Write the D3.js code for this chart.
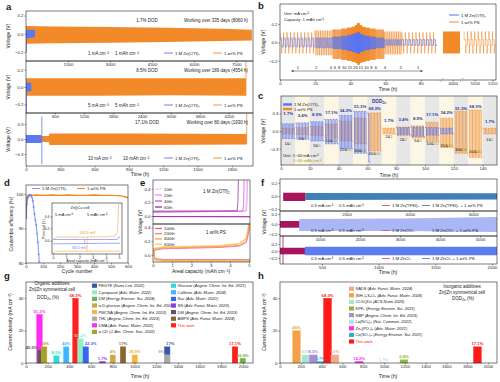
<!DOCTYPE html>
<html lang="en">
<head>
<meta charset="UTF-8" />
<title>Zn cycling figure</title>
<script src="https://cdn.jsdelivr.net/npm/d3@7"></script>
<style>
  body { margin: 0; background: #fff; }
  svg { font-family: 'Liberation Sans', Arial, sans-serif; }
</style>
</head>
<body>
<svg id="fig" width="500" height="382"></svg>
<script>
// ---------------- data: panel a (long-term cycling) ----------------
const aSpan = [8100, 4700, 1985];
const aVolt = [[-0.3, 0.25], [-0.3, 0.3], [-0.54, 0.52]];
const aXTicks = [[1500, 3000, 4500, 6000, 7500], [600, 1200, 1800, 2400, 3000, 3600, 4200], [0, 300, 600, 900, 1200, 1500, 1800]];
const aYTicks = [[-0.2, 0, 0.2], [-0.2, 0, 0.2], [-0.3, 0, 0.3]];
// [time, upper, lower] envelopes of the voltage band
const aPS1 = [[0, 0.085, -0.11], [1000, 0.08, -0.105], [3000, 0.075, -0.1], [5000, 0.065, -0.09], [7000, 0.055, -0.08], [8060, 0.045, -0.075]];
const aPS2 = [[0, 0.1, -0.1], [1500, 0.1, -0.1], [3000, 0.1, -0.095], [4554, 0.1, -0.1]];
const aPS3 = [[0, 0.06, -0.06], [200, 0.06, -0.06], [205, 0.11, -0.12], [1000, 0.11, -0.12], [1930, 0.1, -0.11]];
const aZn1 = [[0, 0.04, -0.05], [320, 0.045, -0.04]];
const aZn2 = [[0, 0.05, -0.05], [110, 0.05, -0.05]];
const aZn3 = [[0, 0.08, -0.08], [135, 0.08, -0.08]];
const aZnFail = [[0, -0.2, 0], [0, -0.3, 0], [135, -0.5, 0.45]];
const aPSFail = [null, [4554, -0.1, 0.3], [1930, -0.1, 0.52]];
const aDOD = ['1.7% DOD', '8.5% DOD', '17.1% DOD'];
const aWork = ['Working over 335 days (8060 h)', 'Working over 189 days (4554 h)', 'Working over 80 days (1930 h)'];
const aCurrent = ['1 mA cm⁻²', '5 mA cm⁻²', '10 mA cm⁻²'];
const aCapacity = ['1 mAh cm⁻²', '5 mAh cm⁻²', '10 mAh cm⁻²'];

// ---------------- data: panel b (rate, 1 mAh cm-2) ----------------
const bRates = [1, 2, 4, 6, 8, 10, 15, 20, 15, 10, 8, 6, 4, 2, 1];
const bStepHours = [20, 10, 5, 3.33, 2.5, 2, 1.33, 1, 1.33, 2, 2.5, 3.33, 5, 10, 20];
// 1 wt% PS: nucleation peak and plateau of each half cycle
const bPSHi = [0.11, 0.13, 0.14, 0.15, 0.16, 0.17, 0.19, 0.21, 0.19, 0.17, 0.16, 0.15, 0.14, 0.12, 0.11];
const bPSLo = [-0.12, -0.14, -0.18, -0.19, -0.2, -0.21, -0.22, -0.24, -0.22, -0.21, -0.2, -0.19, -0.18, -0.13, -0.12];
const bPSPlatHi = [0.03, 0.04, 0.06, 0.07, 0.08, 0.09, 0.1, 0.11, 0.1, 0.09, 0.08, 0.07, 0.06, 0.04, 0.03];
const bPSPlatLo = [-0.03, -0.04, -0.06, -0.07, -0.08, -0.09, -0.1, -0.11, -0.1, -0.09, -0.08, -0.07, -0.06, -0.04, -0.03];
const bZnHi = [0.05, 0.05, 0.06, 0.07, 0.08, 0.09, 0.1, 0.11, 0.09, 0.08, 0.07, 0.06, 0.05, 0.03, 0.03];
const bZnLo = [-0.05, -0.06, -0.07, -0.08, -0.09, -0.1, -0.11, -0.12, -0.1, -0.09, -0.08, -0.07, -0.06, -0.03, -0.03];
const bSegDomain = [[0, 91], [3945, 4040], [5094, 5112]];
const bSegTicks = [[0, 20, 40, 60, 80], [4000], [5100, 5110]];
const bLongBlock = [3945, 4040, 0.12, -0.12];
const bTail = [5094, 5112, 0.12, -0.12, 0.03, -0.03];
const bRateLabelT = [10.2, 20.5, 29, 31.2, 33.7, 36.5, 39.8, 43, 46, 49.2, 52, 54.5, 59.7, 68.6, 78.6];

// ---------------- data: panel c (DOD rate test) ----------------
const cStepT0 = [0, 10, 20, 30, 40, 50, 60, 70, 80, 90, 100, 110, 120, 130, 140];
const cPSHi = [0.05, 0.06, 0.08, 0.12, 0.17, 0.22, 0.31, 0.05, 0.07, 0.09, 0.15, 0.22, 0.34, 0.36, 0.05];
const cPSLo = [-0.05, -0.06, -0.08, -0.12, -0.17, -0.22, -0.34, -0.05, -0.08, -0.12, -0.18, -0.28, -0.38, -0.45, -0.05];
const cZnT0 = [0, 10, 20, 30, 40, 50, 60, 80, 90, 100, 110];
const cZnT1 = [10, 20, 30, 40, 50, 60, 62, 90, 100, 110, 120];
const cZnHi = [0.125, 0.14, 0.16, 0.2, 0.27, 0.34, 0.3, 0.06, 0.07, 0.06, 0.05];
const cZnLo = [-0.13, -0.14, -0.17, -0.22, -0.3, -0.38, -0.53, -0.06, -0.09, -0.07, -0.05];
const cDOD = ['1.7%', '3.4%', '8.5%', '17.1%', '34.2%', '51.3%', '68.3%', '1.7%', '3.4%', '8.5%', '17.1%', '34.2%', '51.3%', '68.3%', '1.7%'];
const cDODv = [0.27, 0.24, 0.26, 0.3, 0.33, 0.39, 0.36, 0.15, 0.17, 0.19, 0.25, 0.3, 0.36, 0.39, 0.14];
const cRate = ['1', '2', '5', '10', '20', '30', '40', '1', '2', '5', '10', '20', '30', '40', '1'];
const cRateV = [-0.235, -0.15, -0.28, -0.18, -0.34, -0.35, -0.41, -0.12, -0.17, -0.19, -0.235, -0.28, -0.34, -0.38, -0.17];

// ---------------- data: panel d (Zn||Cu CE) ----------------
const dCycleZn = [1, 5, 10, 15, 20, 25, 30, 35, 40, 45, 50, 55, 60, 65, 70, 75, 78];
const dCEZn = [93, 97, 98.8, 99.4, 99.6, 99.7, 99.5, 99, 98, 96.2, 94.2, 92.5, 91, 88.5, 86, 82.5, 80.2];
const dCyclePS = [1, 3, 5, 10, 20, 40, 60, 100, 150, 200, 250, 300, 350, 400, 450, 500, 550, 580, 600];
const dCEPS = [93, 97.5, 99, 99.5, 99.8, 99.6, 99.7, 99.6, 99.7, 99.6, 99.7, 99.6, 99.6, 99.7, 99.6, 99.6, 99.5, 99.2, 98.9];
const dInsetPSStrip = [[0, 0.03], [0.3, 0.06], [2, 0.06], [4, 0.065], [4.7, 0.08], [4.88, 0.15], [4.93, 0.35], [4.97, 0.6]];
const dInsetPSPlate = [[0, -0.2], [0.2, -0.17], [5.1, -0.17]];
const dInsetZnStrip = [[0, 0.02], [4.85, 0.02], [4.95, 0.055], [5.1, 0.06]];
const dInsetZnPlate = [[0, -0.05], [5.1, -0.04]];

// ---------------- data: panel e (Zn||Cu profiles) ----------------
const eZnLabels = ['10th', '20th', '40th', '60th'];
const eZnColors = ['#f6bdf0', '#f084ee', '#d83ee0', '#8a1f92'];
const eZnStrip10 = [[0, 0.05], [4.8, 0.07], [4.85, 0.2], [4.88, 0.6]];
const eZnStrip20 = [[0, 0.05], [4.86, 0.07], [4.9, 0.2], [4.93, 0.6]];
const eZnStrip40 = [[0, 0.06], [4.68, 0.07], [4.72, 0.2], [4.75, 0.6]];
const eZnStrip60 = [[0, 0.07], [4.38, 0.075], [4.42, 0.2], [4.45, 0.6]];
const eZnPlate = [[0, -0.01], [5.05, -0.012]];
const ePSLabels = ['100th', '200th', '400th', '600th'];
const ePSColors = ['#f4507e', '#f7785a', '#f59a2e', '#f2c43c'];
const ePSStrip100 = [[0, 0.02], [0.08, 0.07], [0.5, 0.09], [2, 0.1], [3.5, 0.11], [4.5, 0.13], [4.85, 0.18], [4.97, 0.3], [5.02, 0.42]];
const ePSStrip200 = [[0, 0.02], [0.08, 0.08], [0.5, 0.1], [2, 0.11], [3.5, 0.12], [4.5, 0.14], [4.85, 0.2], [4.97, 0.33], [5.02, 0.44]];
const ePSStrip400 = [[0, 0.03], [0.08, 0.09], [0.5, 0.11], [2, 0.12], [3.5, 0.13], [4.5, 0.16], [4.85, 0.23], [4.95, 0.36], [5.0, 0.45]];
const ePSStrip600 = [[0, 0.04], [0.08, 0.1], [0.5, 0.12], [2, 0.13], [3.5, 0.14], [4.5, 0.17], [4.85, 0.25], [4.93, 0.38], [4.98, 0.45]];
const ePSPlate100 = [[0, 0.1], [0.1, -0.05], [0.6, -0.065], [5.05, -0.065]];
const ePSPlate200 = [[0, 0.1], [0.1, -0.06], [0.6, -0.07], [5.05, -0.072]];
const ePSPlate400 = [[0, 0.1], [0.1, -0.07], [0.6, -0.08], [5.05, -0.085]];
const ePSPlate600 = [[0, 0.1], [0.1, -0.08], [0.6, -0.09], [5.05, -0.095]];

// ---------------- data: panel f (other salts) ----------------
const fSpan = [[-100, 6750], [0, 5425], [130, 2045]];
const fVolt = [[-0.23, 0.26], [-0.24, 0.26], [-0.37, 0.43]];
const fXTicks = [[2000, 4000, 6000], [1000, 2000, 3000, 4000, 5000], [500, 1000, 1500, 2000]];
const fBare = [[[0, 0.05, -0.077], [700, 0.05, -0.077]], [[0, 0.06, -0.074], [480, 0.06, -0.074]], [[130, 0.094, -0.094], [350, 0.094, -0.094]]];
const fWithPS = [[[700, 0.046, -0.06], [6750, 0.04, -0.055]], [[480, 0.1, -0.14], [3000, 0.11, -0.14], [5425, 0.14, -0.16]], [[350, 0.12, -0.12], [2045, 0.12, -0.12]]];
const fSalt = ['1 M Zn(TFSI)₂', '1 M ZnClO₄', '1 M ZnCl₂'];
const fBareColor = '#a8155c';
const fPSColors = ['#3f80b6', '#aab6f5', '#5d7cf0'];

// ---------------- data: panel g (organic additives) ----------------
const gNames = ['PEGTE', '2-propanol', 'DM', 'α-D-glucose', 'PMCNA', 'THL', 'DMA', 'α-CD', 'Glucose', 'Caffeine', 'Sac', 'SN', 'DM', 'AMPS', 'This work'];
const gRefs = ['Nano Lett. 2022', 'Adv. Mater. 2022', 'Energy Environ. Sci. 2024', 'Angew. Chem. Int. Ed. 2024', 'Angew. Chem. Int. Ed. 2023', 'Angew. Chem. Int. Ed. 2023', 'Adv. Funct. Mater. 2022', 'J. Am. Chem. Soc. 2022', 'Angew. Chem. Int. Ed. 2021', 'Adv. Mater. 2024', 'Adv. Mater. 2021', 'Adv. Funct. Mater. 2023', 'Angew. Chem. Int. Ed. 2023', 'Adv. Funct. Mater. 2024', ''];
const gColors = ['#3a56a8', '#8ef0c4', '#74b04c', '#c8a84c', '#f5b445', '#a8a8a8', '#ff2cf0', '#a8a028', '#38d8d8', '#40b4ff', '#3c64f0', '#8a3ce8', '#5a5a5a', '#8c6434', '#ff2020'];
const gBarSeries = [6, 12, 7, 8, 9, 14, 1, 10, 11, 3, 13, 4, 0, 5, 14, 2];
const gBarTime = [124, 132, 167, 280, 370, 456, 502, 551, 705, 800, 894, 1003, 1301, 1301, 1926, 1998];
const gBarCurrent = [30, 8, 10, 4.5, 10, 40, 15, 10, 1, 5, 10, 5, 10, 5, 10, 3];
const gBarDOD = ['51.3%', '45.5%', '6%', '8.5%', '40%', '68.3%', '51.2%', '22.3%', '1.7%', '4%', '17%', '38.8%', '17%', '9%', '17.1%', '26.8%'];
const gBarAnchor = ['middle', 'end', 'start', 'middle', 'middle', 'middle', 'middle', 'start', 'middle', 'middle', 'middle', 'middle', 'start', 'end', 'middle', 'middle'];

// ---------------- data: panel h (inorganic additives) ----------------
const hNames = ['SADS', '(NH₄)₂S₂O₈', 'Cl-GQDs', 'KPF₆', 'NBP', 'La(NO₃)₃', 'Zn₃(PO₄)₂', 'Ce(SO₄)₂', 'This work'];
const hRefs = ['Adv. Funct. Mater. 2024', 'Adv. Funct. Mater. 2024', 'ACS Nano 2023', 'Energy Environ. Sci. 2021', 'Angew. Chem. Int. Ed. 2023', 'Nat. Commun. 2022', 'Adv. Mater. 2021', 'Energy Environ. Sci. 2021', ''];
const hColors = ['#f5a88e', '#f5a04a', '#a8e4d4', '#8cb840', '#a88cd0', '#bcdcf4', '#ff30e8', '#30b0c8', '#ff1a1a'];
const hBarSeries = [1, 2, 4, 7, 8, 0, 6, 5, 3, 8];
const hBarTime = [159, 248, 320, 385, 457, 529, 760, 993, 1192, 1899];
const hBarCurrent = [20, 5, 5, 1, 40, 5, 1, 0.5, 2, 10];
const hBarDOD = ['46%', '43%', '8.5%', '8.7%', '68.3%', '51%', '14.2%', '1.7%', '6.8%', '17.1%'];

// ================= drawing =================
const svg = d3.select('#fig');
const defs = svg.append('defs');
const BLUE = '#5b78f2', ORANGE = '#f28a2a', INK = '#222';
const f1 = d3.format('.1f');
let clipId = 0;

function clip(x0, y0, x1, y1) {
  const id = 'clip' + clipId++;
  defs.append('clipPath').attr('id', id).append('rect')
    .attr('x', x0).attr('y', y0).attr('width', x1 - x0).attr('height', y1 - y0);
  return `url(#${id})`;
}
function frame(x0, y0, x1, y1) {
  svg.append('rect').attr('x', x0).attr('y', y0).attr('width', x1 - x0).attr('height', y1 - y0)
    .attr('fill', 'none').attr('stroke', INK).attr('stroke-width', 0.6);
}
function styleAxis(g) {
  g.select('.domain').remove();
  g.selectAll('text').attr('font-size', 4.3).attr('fill', INK);
  g.selectAll('line').attr('stroke', INK).attr('stroke-width', 0.5);
}
function bottomAxis(scale, y, ticks, fmt) {
  const g = svg.append('g').attr('transform', `translate(0,${y})`)
    .call(d3.axisBottom(scale).tickValues(ticks).tickSize(1.5).tickPadding(0.8).tickFormat(fmt || d3.format('d')));
  styleAxis(g);
  return g;
}
function leftAxis(scale, x, ticks, fmt) {
  const g = svg.append('g').attr('transform', `translate(${x},0)`)
    .call(d3.axisLeft(scale).tickValues(ticks).tickSize(1.5).tickPadding(1).tickFormat(fmt || f1));
  styleAxis(g);
  return g;
}
function txt(x, y, s, o = {}) {
  return svg.append('text').attr('x', x).attr('y', y).text(s)
    .attr('font-size', o.size || 4.5).attr('fill', o.color || INK)
    .attr('text-anchor', o.anchor || 'start').attr('font-weight', o.weight || 'normal')
    .attr('font-style', o.style || 'normal');
}
function vtitle(x, y, s) {
  svg.append('text').attr('transform', `translate(${x},${y}) rotate(-90)`).text(s)
    .attr('font-size', 5).attr('fill', INK).attr('text-anchor', 'middle');
}
function letter(x, y, s) {
  txt(x, y, s, { size: 9.5, weight: 'bold' });
}
function legLine(x, y, color, label, w = 9, sw = 0.9) {
  svg.append('line').attr('x1', x).attr('x2', x + w).attr('y1', y).attr('y2', y)
    .attr('stroke', color).attr('stroke-width', sw);
  txt(x + w + 2, y + 1.5, label, { size: 4.3 });
}
function band(g, xs, ys, pts, color) {
  g.append('path').datum(pts)
    .attr('d', d3.area().x(d => xs(d[0])).y0(d => ys(d[2])).y1(d => ys(d[1])))
    .attr('fill', color);
}
// plain square wave: each half cycle sits on hi or lo
function squareWave(t0, t1, half, hi, lo) {
  const pts = [];
  let up = true;
  for (let t = t0; t < t1 - 1e-9; t += half) {
    const te = Math.min(t + half, t1);
    const v = up ? hi : lo;
    pts.push([t, v], [te, v]);
    up = !up;
  }
  return pts;
}
// half cycles that open on a nucleation peak and then settle on a plateau
function spikeWave(t0, t1, half, hi, lo, pHi, pLo) {
  const pts = [];
  let up = true;
  for (let t = t0; t < t1 - 1e-9; t += half) {
    const te = Math.min(t + half, t1);
    pts.push([t, up ? hi : lo], [t + (te - t) * 0.1, up ? pHi : pLo], [te, up ? pHi : pLo]);
    up = !up;
  }
  return pts;
}

// ---------------- panel a ----------------
letter(6, 10, 'a');
const aRows = [[11, 61], [61, 113], [113, 166]];
const aPS = [aPS1, aPS2, aPS3], aZn = [aZn1, aZn2, aZn3];
aRows.forEach(([top, bot], i) => {
  const x = d3.scaleLinear([0, aSpan[i]], [26, 253]);
  const y = d3.scaleLinear(aVolt[i], [bot, top]);
  const g = svg.append('g').attr('clip-path', clip(26, top, 253, bot));
  band(g, x, y, aPS[i], ORANGE);
  band(g, x, y, aZn[i], BLUE);
  const zf = aZnFail[i];
  g.append('line').attr('x1', x(zf[0]) + 0.4).attr('x2', x(zf[0]) + 0.4).attr('y1', y(zf[1])).attr('y2', y(zf[2]))
    .attr('stroke', BLUE).attr('stroke-width', 0.8);
  const pf = aPSFail[i];
  if (pf) {
    g.append('line').attr('x1', x(pf[0])).attr('x2', x(pf[0])).attr('y1', y(pf[1])).attr('y2', y(pf[2]))
      .attr('stroke', ORANGE).attr('stroke-width', 0.8);
  }
  frame(26, top, 253, bot);
  bottomAxis(x, bot, aXTicks[i]);
  leftAxis(y, 26, aYTicks[i]);
  vtitle(10, (top + bot) / 2, 'Voltage (V)');
  txt(147, top + 10.5, aDOD[i], { anchor: 'middle' });
  txt(248, top + 10.5, aWork[i], { anchor: 'end' });
  txt(88, bot - 6.5, aCurrent[i]);
  txt(115 + (i === 2 ? 8 : 0), bot - 6.5, aCapacity[i]);
  legLine(164, bot - 8, BLUE, '1 M Zn(OTf)₂');
  legLine(213, bot - 8, ORANGE, '1 wt% PS');
});
txt(140, 176, 'Time (h)', { size: 5, anchor: 'middle' });

// ---------------- panel b ----------------
letter(258, 9, 'b');
const bRanges = [[280, 440], [443, 460], [464, 496]];
const bx = bSegDomain.map((d, i) => d3.scaleLinear(d, bRanges[i]));
const by = d3.scaleLinear([-0.41, 0.42], [80, 4]);
const bg = svg.append('g').attr('clip-path', clip(280, 4, 496, 80));
const line = (xs, ys) => d3.line().x(d => xs(d[0])).y(d => ys(d[1]));
{
  let t = 0, psPts = [], znPts = [];
  bRates.forEach((r, i) => {
    const half = 1 / r;
    psPts = psPts.concat(spikeWave(t, t + bStepHours[i], half, bPSHi[i], bPSLo[i], bPSPlatHi[i], bPSPlatLo[i]));
    znPts = znPts.concat(squareWave(t, t + bStepHours[i], half, bZnHi[i], bZnLo[i]));
    t += bStepHours[i];
  });
  bg.append('path').datum(psPts).attr('d', line(bx[0], by)).attr('fill', 'none').attr('stroke', ORANGE).attr('stroke-width', 0.55);
  bg.append('path').datum(znPts).attr('d', line(bx[0], by)).attr('fill', 'none').attr('stroke', BLUE).attr('stroke-width', 0.5);
  bg.append('rect').attr('x', bx[1](bLongBlock[0])).attr('width', bx[1](bLongBlock[1]) - bx[1](bLongBlock[0]))
    .attr('y', by(bLongBlock[2])).attr('height', by(bLongBlock[3]) - by(bLongBlock[2])).attr('fill', ORANGE);
  const tail = spikeWave(bTail[0], bTail[1], 1, bTail[2], bTail[3], bTail[4], bTail[5]);
  bg.append('path').datum(tail).attr('d', line(bx[2], by)).attr('fill', 'none').attr('stroke', ORANGE).attr('stroke-width', 0.55);
}
frame(280, 4, 496, 80);
bx.forEach((s, i) => bottomAxis(s, 80, bSegTicks[i]));
[441.5, 462].forEach(xb => {
  svg.append('rect').attr('x', xb - 1).attr('y', 78.5).attr('width', 2).attr('height', 3).attr('fill', '#fff');
  [-0.8, 0.8].forEach(o => svg.append('line').attr('x1', xb + o - 0.7).attr('x2', xb + o + 0.7)
    .attr('y1', 81.5).attr('y2', 78.5).attr('stroke', INK).attr('stroke-width', 0.4));
});
leftAxis(by, 280, [-0.2, 0, 0.2]);
vtitle(265, 42, 'Voltage (V)');
txt(388, 90.5, 'Time (h)', { size: 5, anchor: 'middle' });
txt(284, 15, 'Unit: mA cm⁻²', { size: 4.2 });
txt(284, 20.5, 'Capacity: 1 mAh cm⁻²', { size: 4.2 });
legLine(449, 15, BLUE, '1 M Zn(OTf)₂', 10, 1);
legLine(449, 22, ORANGE, '1 wt% PS', 10, 1);
svg.append('line').attr('x1', 292).attr('x2', 422).attr('y1', 71).attr('y2', 71).attr('stroke', '#999').attr('stroke-width', 1.1);
[[291, 1], [423, -1]].forEach(([ax, dir]) => svg.append('path')
  .attr('d', `M${ax},71 l${2.5 * dir},-1.3 l0,2.6 z`).attr('fill', '#444'));
bRates.forEach((r, i) => txt(bx[0](bRateLabelT[i]), 68.5, String(r), { size: 4.1, anchor: 'middle' }));

// ---------------- panel c ----------------
letter(258, 99, 'c');
const cx = d3.scaleLinear([0, 150], [281, 497]);
const cy = d3.scaleLinear([-0.58, 0.6], [165, 96]);
const cg = svg.append('g').attr('clip-path', clip(281, 96, 497, 165));
cStepT0.forEach((t0, i) => {
  cg.append('rect').attr('x', cx(t0)).attr('width', cx(t0 + 10) - cx(t0)).attr('y', 96).attr('height', 69)
    .attr('fill', i % 2 === 0 ? '#e7e7e7' : '#fcf6e4');
});
cStepT0.forEach((t0, i) => {
  cg.append('path').datum(squareWave(t0, t0 + 10, 1, cPSHi[i], cPSLo[i]))
    .attr('d', line(cx, cy)).attr('fill', 'none').attr('stroke', ORANGE).attr('stroke-width', 0.7);
});
cZnT0.forEach((t0, i) => {
  cg.append('path').datum(squareWave(t0, cZnT1[i], 1, cZnHi[i], cZnLo[i]))
    .attr('d', line(cx, cy)).attr('fill', 'none').attr('stroke', BLUE).attr('stroke-width', 0.7);
});
cStepT0.forEach((t0, i) => {
  txt(cx(t0 + 5), cy(cDODv[i]), cDOD[i], { size: 4.3, anchor: 'middle', color: '#1f3a9c', weight: 'bold' });
  const tt = txt(cx(t0 + 5), cy(cRateV[i]), '', { size: 4.2, anchor: 'middle' });
  tt.append('tspan').text(cRate[i] + '&');
  tt.append('tspan').text(cRate[i]).attr('fill', '#a89a10');
});
frame(281, 96, 497, 165);
bottomAxis(cx, 165, [0, 20, 40, 60, 80, 100, 120, 140]);
leftAxis(cy, 281, [-0.3, 0, 0.3]);
vtitle(265, 131, 'Voltage (V)');
txt(389, 177, 'Time (h)', { size: 5, anchor: 'middle' });
legLine(283, 104.5, BLUE, '1 M Zn(OTf)₂', 9, 2.5);
legLine(283, 109, ORANGE, '1 wt% PS', 9, 2.5);
{
  const t = txt(372, 103, 'DOD', { size: 4.6, color: '#1f3a9c', weight: 'bold' });
  t.append('tspan').text('Zn').attr('font-size', 3.2).attr('dy', 1);
}
txt(283, 156.5, 'Unit: 1~40 mA cm⁻²', { size: 4.2 });
txt(293, 161.5, '1~40 mAh cm⁻²', { size: 4.2, color: '#a89a10' });

// ---------------- panel d ----------------
letter(4, 186, 'd');
const dx = d3.scaleLinear([0, 600], [26, 128]);
const dy = d3.scaleLinear([80, 102.6], [263, 185]);
const dg = svg.append('g').attr('clip-path', clip(26, 185, 128, 263));
const dPS = dCyclePS.map((c, i) => [c, dCEPS[i]]);
const dZn = dCycleZn.map((c, i) => [c, dCEZn[i]]);
dg.append('path').datum(dPS).attr('d', line(dx, dy)).attr('fill', 'none').attr('stroke', ORANGE).attr('stroke-width', 1.3);
dg.selectAll('.mps').data(dPS).join('circle').attr('cx', d => dx(d[0])).attr('cy', d => dy(d[1])).attr('r', 0.7).attr('fill', ORANGE);
dg.append('path').datum(dZn).attr('d', line(dx, dy)).attr('fill', 'none').attr('stroke', BLUE).attr('stroke-width', 0.8);
dg.selectAll('.mzn').data(dZn).join('circle').attr('cx', d => dx(d[0])).attr('cy', d => dy(d[1])).attr('r', 0.8)
  .attr('fill', 'none').attr('stroke', BLUE).attr('stroke-width', 0.5);
frame(26, 185, 128, 263);
bottomAxis(dx, 263, [0, 100, 200, 300, 400, 500, 600]);
leftAxis(dy, 26, [80, 90, 100], d3.format('d'));
vtitle(13, 224, 'Coulombic efficiency (%)');
txt(77, 273, 'Cycle number', { size: 5, anchor: 'middle' });
legLine(32, 188.5, BLUE, '1 M Zn(OTf)₂', 8, 0.8);
legLine(77, 188.5, ORANGE, '1 wt% PS', 8, 1.1);
// inset
{
  const ix = d3.scaleLinear([0, 5.15], [53, 121]);
  const iy = d3.scaleLinear([-0.2, 0.6], [253, 204]);
  svg.append('rect').attr('x', 52).attr('y', 203).attr('width', 70).attr('height', 51).attr('fill', '#fff');
  const ig = svg.append('g').attr('clip-path', clip(52, 203, 122, 254));
  [[dInsetPSStrip, '#f7a24e'], [dInsetPSPlate, '#f7a24e'], [dInsetZnStrip, BLUE], [dInsetZnPlate, BLUE]].forEach(([pts, c]) => {
    ig.append('path').datum(pts).attr('d', line(ix, iy)).attr('fill', 'none').attr('stroke', c).attr('stroke-width', 0.6);
  });
  frame(52, 203, 122, 254);
  const ax = bottomAxis(ix, 254, [0, 1, 2, 3, 4, 5]);
  ax.selectAll('text').attr('font-size', 3.4);
  const ay = leftAxis(iy, 52, [0, 0.2, 0.4]);
  ay.selectAll('text').attr('font-size', 3.4);
  svg.append('text').attr('transform', 'translate(45,229) rotate(-90)').text('Potential (V)')
    .attr('font-size', 3.6).attr('text-anchor', 'middle').attr('fill', INK);
  txt(87, 261.5, 'Areal capacity (mAh cm⁻²)', { size: 3.6, anchor: 'middle' });
  txt(80, 209, 'Zn||Cu cell', { size: 4, anchor: 'middle' });
  txt(55, 216, '5 mA cm⁻²', { size: 4 });
  txt(87, 216, '5 mAh cm⁻²', { size: 4 });
  [[ix(2.6), iy(0.06), iy(-0.17), '#f7a24e'], [ix(2.4), iy(0.02), iy(-0.05), BLUE]].forEach(([xx, y1, y2, c]) => {
    svg.append('line').attr('x1', xx).attr('x2', xx).attr('y1', y1).attr('y2', y2).attr('stroke', c).attr('stroke-width', 0.5);
  });
  txt(ix(2.6), iy(0.06) - 3, '133.3 mV', { size: 3.8, color: '#f08a2a', anchor: 'middle' });
  txt(ix(2.0), iy(-0.05) + 5, '66.5 mV', { size: 3.8, color: BLUE, anchor: 'middle' });
}

// ---------------- panel e ----------------
letter(140, 186, 'e');
const ex = d3.scaleLinear([0, 5.05], [153, 250]);
{
  const yTop = d3.scaleLinear([-0.12, 0.53], [224, 180]);
  const yBot = d3.scaleLinear([-0.1, 0.45], [262, 224]);
  const gT = svg.append('g').attr('clip-path', clip(153, 180, 250, 224));
  [eZnStrip10, eZnStrip20, eZnStrip40, eZnStrip60].forEach((s, i) => {
    gT.append('path').datum(eZnPlate).attr('d', line(ex, yTop)).attr('fill', 'none').attr('stroke', eZnColors[i]).attr('stroke-width', 0.7);
    gT.append('path').datum(s).attr('d', line(ex, yTop)).attr('fill', 'none').attr('stroke', eZnColors[i]).attr('stroke-width', 0.7);
  });
  const gB = svg.append('g').attr('clip-path', clip(153, 224, 250, 262));
  const psStrips = [ePSStrip100, ePSStrip200, ePSStrip400, ePSStrip600];
  const psPlates = [ePSPlate100, ePSPlate200, ePSPlate400, ePSPlate600];
  psStrips.forEach((s, i) => {
    gB.append('path').datum(psPlates[i]).attr('d', line(ex, yBot)).attr('fill', 'none').attr('stroke', ePSColors[i]).attr('stroke-width', 0.7);
    gB.append('path').datum(s).attr('d', line(ex, yBot)).attr('fill', 'none').attr('stroke', ePSColors[i]).attr('stroke-width', 0.7);
  });
  frame(153, 180, 250, 224);
  frame(153, 224, 250, 262);
  leftAxis(yTop, 153, [0, 0.2, 0.4]);
  leftAxis(yBot, 153, [0, 0.2, 0.4]);
  bottomAxis(ex, 262, [0, 1, 2, 3, 4, 5]);
  vtitle(142, 222, 'Voltage (V)');
  txt(201, 273, 'Areal capacity (mAh cm⁻²)', { size: 5, anchor: 'middle' });
  eZnLabels.forEach((l, i) => legLine(155, 189 + i * 6, eZnColors[i], l, 7, 1.2));
  ePSLabels.forEach((l, i) => legLine(155, 228.5 + i * 5.2, ePSColors[i], l, 7, 1.2));
  txt(203, 193, '1 M Zn(OTf)₂', { size: 4.6 });
  txt(206, 234, '1 wt% PS', { size: 4.6 });
}

// ---------------- panel f ----------------
letter(261, 186, 'f');
const fRows = [[179, 211], [211, 236], [236, 264]];
fRows.forEach(([top, bot], i) => {
  const x = d3.scaleLinear(fSpan[i], [280, 497]);
  const y = d3.scaleLinear(fVolt[i], [bot, top]);
  const g = svg.append('g').attr('clip-path', clip(280, top, 497, bot));
  band(g, x, y, fWithPS[i], fPSColors[i]);
  band(g, x, y, fBare[i], fBareColor);
  if (i === 2) {
    g.append('line').attr('x1', 283).attr('x2', 283).attr('y1', top).attr('y2', bot).attr('stroke', fBareColor).attr('stroke-width', 0.8);
  }
  frame(280, top, 497, bot);
  bottomAxis(x, bot, fXTicks[i]);
  leftAxis(y, 280, [-0.2, 0, 0.2]);
  const ly = bot - 5.5;
  txt(311, ly + 1.5, '0.5 mA cm⁻²', { size: 4.2 });
  txt(339, ly + 1.5, '0.5 mAh cm⁻²', { size: 4.2 });
  legLine(382, ly, '#e0508c', fSalt[i], 8, 0.9);
  legLine(422, ly, fPSColors[i], fSalt[i] + ' + 1 wt% PS', 8, 0.9);
});
vtitle(266, 222, 'Voltage (V)');
txt(388, 274, 'Time (h)', { size: 5, anchor: 'middle' });

// ---------------- panel g ----------------
letter(4, 279, 'g');
const gx = d3.scaleLinear([0, 2092], [26, 253]);
const gy = d3.scaleLinear([0, 50], [363, 282]);
gBarSeries.forEach((s, i) => {
  const t = gBarTime[i];
  svg.append('rect').attr('x', gx(t - 26)).attr('width', gx(t + 26) - gx(t - 26))
    .attr('y', gy(gBarCurrent[i])).attr('height', gy(0) - gy(gBarCurrent[i]))
    .attr('fill', gColors[s]).attr('stroke', d3.color(gColors[s]).brighter(0.6)).attr('stroke-width', 0.4);
});
gBarSeries.forEach((s, i) => {
  const t = gBarTime[i];
  const a = gBarAnchor[i];
  const xx = a === 'end' ? gx(t - 26) : a === 'start' ? gx(t - 10) : gx(t);
  txt(xx, gy(gBarCurrent[i]) - 1.5, gBarDOD[i], { size: 4.2, anchor: a, color: gColors[s], weight: 'bold' });
});
frame(26, 282, 253, 363);
bottomAxis(gx, 363, [0, 200, 400, 600, 800, 1000, 1200, 1400, 1600, 1800, 2000]);
leftAxis(gy, 26, [0, 20, 40], d3.format('d'));
vtitle(12, 322, 'Current density (mA cm⁻²)');
txt(140, 378, 'Time (h)', { size: 5, anchor: 'middle' });
txt(52, 285, 'Organic additives', { size: 4.5, anchor: 'middle' });
txt(52, 290.5, 'Zn||Zn symmetrical cell', { size: 4.5, anchor: 'middle' });
{
  const t = txt(37, 299, 'DOD', { size: 4.5 });
  t.append('tspan').text('Zn').attr('font-size', 3.2).attr('dy', 1);
  t.append('tspan').text(' (%)').attr('dy', -1);
}
function legendEntry(x, y, color, name, ref) {
  svg.append('rect').attr('x', x).attr('y', y - 2.4).attr('width', 5).attr('height', 4.2).attr('fill', color);
  const t = txt(x + 6.5, y + 1.2, '', { size: 4, color: ref ? INK : color });
  t.append('tspan').text(name);
  if (ref) {
    t.append('tspan').text(' (');
    t.append('tspan').text(ref).attr('font-style', 'italic');
    t.append('tspan').text(')');
  }
}
gNames.forEach((n, i) => {
  const col = i < 8 ? 0 : 1;
  const row = col ? i - 8 : i;
  legendEntry(col ? 171 : 92, 286 + row * 6.6, gColors[i], n, gRefs[i]);
});

// ---------------- panel h ----------------
letter(258, 279, 'h');
const hx = d3.scaleLinear([0, 2087], [280, 497]);
const hy = d3.scaleLinear([0, 50], [363, 282]);
hBarSeries.forEach((s, i) => {
  const t = hBarTime[i];
  svg.append('rect').attr('x', hx(t - 38)).attr('width', hx(t + 38) - hx(t - 38))
    .attr('y', hy(hBarCurrent[i])).attr('height', hy(0) - hy(hBarCurrent[i]))
    .attr('fill', hColors[s]).attr('stroke', d3.color(hColors[s]).brighter(0.5)).attr('stroke-width', 0.4);
});
hBarSeries.forEach((s, i) => {
  txt(hx(hBarTime[i]), hy(hBarCurrent[i]) - 1.5, hBarDOD[i], { size: 4.2, anchor: 'middle', color: hColors[s], weight: 'bold' });
});
frame(280, 282, 497, 363);
bottomAxis(hx, 363, [0, 200, 400, 600, 800, 1000, 1200, 1400, 1600, 1800, 2000]);
leftAxis(hy, 280, [0, 20, 40], d3.format('d'));
vtitle(266, 322, 'Current density (mA cm⁻²)');
txt(388, 378, 'Time (h)', { size: 5, anchor: 'middle' });
hNames.forEach((n, i) => legendEntry(349, 289 + i * 6.6, hColors[i], n, hRefs[i]));
txt(462, 288, 'Inorganic additives', { size: 4.5, anchor: 'middle' });
txt(462, 294, 'Zn||Zn symmetrical cell', { size: 4.5, anchor: 'middle' });
{
  const t = txt(452, 300, 'DOD', { size: 4.5 });
  t.append('tspan').text('Zn').attr('font-size', 3.2).attr('dy', 1);
  t.append('tspan').text(' (%)').attr('dy', -1);
}
</script>
</body>
</html>
